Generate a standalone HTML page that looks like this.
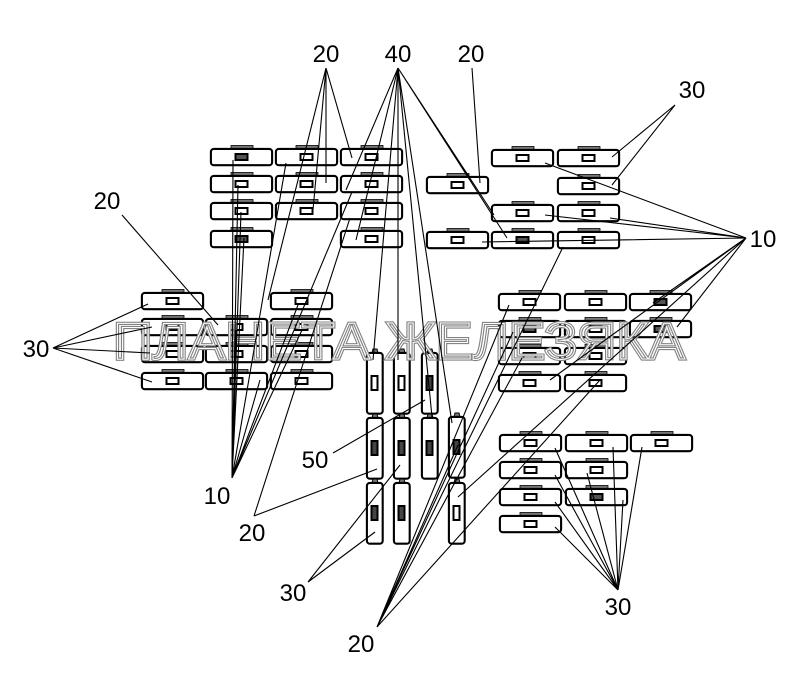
<!DOCTYPE html>
<html><head><meta charset="utf-8"><style>
html,body{margin:0;padding:0;background:#fff;}
svg{display:block;}
text{font-family:"Liberation Sans",Arial,sans-serif;}
</style></head><body>
<svg width="800" height="687" viewBox="0 0 800 687" xmlns="http://www.w3.org/2000/svg">
<defs>
<g id="h">
<rect x="21" y="-2.5" width="22" height="3.5" fill="#777" stroke="#000" stroke-width="0.8"/>
<rect x="0.9" y="0.9" width="61.2" height="16.3" rx="3" fill="#fff" stroke="#000" stroke-width="2.1"/>
<rect x="25.5" y="6" width="12" height="6" fill="#fff" stroke="#000" stroke-width="2"/>
</g>
<g id="hd">
<rect x="21" y="-2.5" width="22" height="3.5" fill="#777" stroke="#000" stroke-width="0.8"/>
<rect x="0.9" y="0.9" width="61.2" height="16.3" rx="3" fill="#fff" stroke="#000" stroke-width="2.1"/>
<rect x="25.5" y="6" width="12" height="6" fill="#555" stroke="#000" stroke-width="2"/>
</g>
<g id="v">
<path d="M6,1 L7,-3 L11,-3 L12,1" fill="#777" stroke="#000" stroke-width="1"/>
<rect x="0.9" y="0.9" width="15.8" height="60.8" rx="3" fill="#fff" stroke="#000" stroke-width="2.1"/>
<rect x="5.5" y="24" width="6" height="14" fill="#fff" stroke="#000" stroke-width="2"/>
</g>
<g id="vd">
<path d="M6,1 L7,-3 L11,-3 L12,1" fill="#777" stroke="#000" stroke-width="1"/>
<rect x="0.9" y="0.9" width="15.8" height="60.8" rx="3" fill="#fff" stroke="#000" stroke-width="2.1"/>
<rect x="5.5" y="24" width="6" height="14" fill="#444" stroke="#000" stroke-width="2"/>
</g>
</defs>

<!-- Top-left block -->
<use href="#hd" x="210" y="148"/><use href="#h" x="275" y="148"/><use href="#h" x="340" y="148"/>
<use href="#h" x="210" y="175"/><use href="#h" x="275" y="175"/><use href="#h" x="340" y="175"/>
<use href="#h" x="210" y="202"/><use href="#h" x="275" y="202"/><use href="#h" x="340" y="202"/>
<use href="#hd" x="210" y="230"/><use href="#h" x="340" y="230"/>

<!-- Top-right block -->
<use href="#h" x="491" y="149"/><use href="#h" x="557" y="149"/>
<use href="#h" x="426" y="176"/><use href="#h" x="557" y="177"/>
<use href="#h" x="491" y="204"/><use href="#h" x="557" y="204"/>
<use href="#h" x="426" y="231"/><use href="#hd" x="491" y="231"/><use href="#h" x="557" y="231"/>

<!-- Left block -->
<use href="#h" x="141" y="292"/><use href="#h" x="270" y="292"/>
<use href="#h" x="141" y="318"/><use href="#h" x="205" y="318"/><use href="#h" x="270" y="318"/>
<use href="#h" x="141" y="345"/><use href="#h" x="205" y="345"/><use href="#h" x="270" y="345"/>
<use href="#h" x="141" y="372"/><use href="#h" x="205" y="372"/><use href="#h" x="270" y="372"/>

<!-- Vertical fuses -->
<use href="#v" x="366" y="352"/><use href="#v" x="393" y="352"/><use href="#vd" x="421" y="352"/>
<use href="#vd" x="366" y="417"/><use href="#vd" x="393" y="417"/><use href="#vd" x="421" y="417"/><use href="#vd" x="448" y="416"/>
<use href="#vd" x="366" y="482"/><use href="#vd" x="393" y="482"/><use href="#v" x="448" y="482"/>

<!-- Right middle block -->
<use href="#h" x="498" y="293"/><use href="#h" x="564" y="293"/><use href="#hd" x="629" y="293"/>
<use href="#hd" x="498" y="320"/><use href="#h" x="564" y="320"/><use href="#hd" x="629" y="320"/>
<use href="#h" x="498" y="347"/><use href="#h" x="564" y="347"/>
<use href="#h" x="498" y="374"/><use href="#h" x="564" y="374"/>

<!-- Bottom right block -->
<use href="#h" x="499" y="434"/><use href="#h" x="565" y="434"/><use href="#h" x="630" y="434"/>
<use href="#h" x="499" y="461"/><use href="#h" x="565" y="461"/>
<use href="#h" x="499" y="488"/><use href="#hd" x="565" y="488"/>
<use href="#h" x="499" y="515"/>

<!-- Watermark -->
<text x="113" y="359" font-size="52" textLength="572" lengthAdjust="spacingAndGlyphs" fill="none" stroke="#848484" stroke-width="3.2">ПЛАНЕТА ЖЕЛЕЗЯКА</text>
<text x="113" y="359" font-size="52" textLength="572" lengthAdjust="spacingAndGlyphs" fill="none" stroke="#fff" stroke-width="1">ПЛАНЕТА ЖЕЛЕЗЯКА</text>

<!-- Leader lines -->
<g stroke="#000" stroke-width="1.1" fill="none">
<path d="M326,68L352,158M326,68L326,183M326,68L313,210M326,68L283,240M326,68L268,300"/>
<path d="M398,68L494,215M398,68L507,238M398,68L346,190M398,68L356,240M398,68L373,360M398,68L398,360M398,68L432,417M398,68L452,423"/>
<path d="M472,68L480,183"/>
<path d="M675,105L612,157M675,105L612,185"/>
<path d="M746,238L545,163M746,238L545,215M746,238L610,218M746,238L482,242M746,238L612,240M746,238L653,303M746,238L677,327M746,238L550,380M746,238L458,497"/>
<path d="M122,215L218,325"/>
<path d="M53,348L148,304M53,348L152,327M53,348L150,353M53,348L152,382"/>
<path d="M232,478L233,160M232,478L238,185M232,478L241,212M232,478L244,238M232,478L286,163M232,478L236,330M232,478L238,355M232,478L260,380M232,478L298,305M232,478L302,330M232,478L352,192"/>
<path d="M254,516L377,469M254,516L350,218"/>
<path d="M333,453L425,400"/>
<path d="M308,582L375,532M308,582L400,465"/>
<path d="M377,627L509,305M377,627L513,332M377,627L522,358M377,627L563,247M377,627L600,380M377,627L458,445"/>
<path d="M618,590L555,448M618,590L555,475M618,590L555,502M618,590L555,527M618,590L587,473M618,590L613,447M618,590L623,500M618,590L642,447"/>
</g>

<!-- Labels -->
<g font-size="24" fill="#000" text-anchor="middle">
<text x="326" y="62">20</text>
<text x="398" y="62">40</text>
<text x="471" y="62">20</text>
<text x="692" y="98">30</text>
<text x="763" y="247">10</text>
<text x="107" y="209">20</text>
<text x="36" y="357">30</text>
<text x="315" y="468">50</text>
<text x="217" y="504">10</text>
<text x="252" y="541">20</text>
<text x="293" y="601">30</text>
<text x="361" y="652">20</text>
<text x="618" y="615">30</text>
</g>
</svg>
</body></html>
